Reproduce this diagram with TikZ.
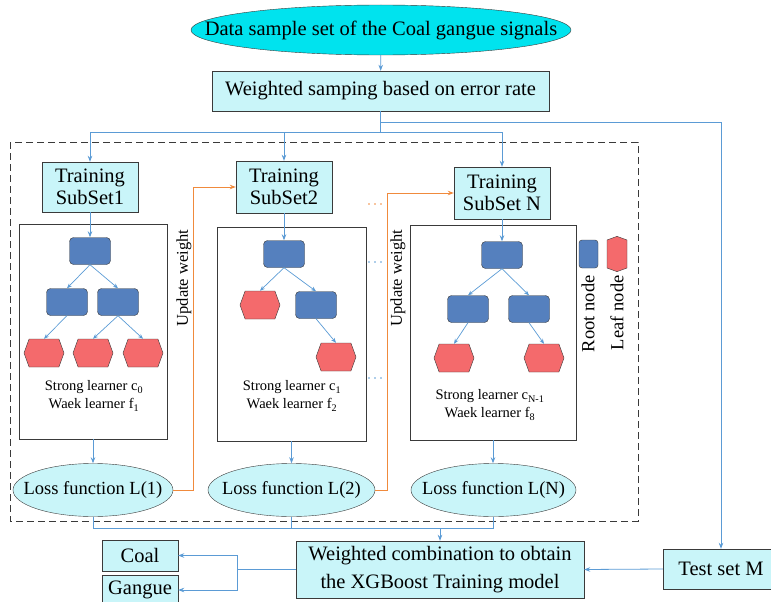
\documentclass[tikz,border=0pt]{standalone}
\usepackage{fontspec}
\setmainfont{Liberation Serif}
\usetikzlibrary{shapes.geometric, shapes.symbols, arrows.meta, calc}
\definecolor{cyantop}{HTML}{00E3EE}
\definecolor{cyanbox}{HTML}{C9F5F9}
\definecolor{linkblue}{HTML}{5B9BD5}
\definecolor{nodeblue}{HTML}{5580BE}
\definecolor{leafred}{HTML}{F46A6C}
\definecolor{updorange}{HTML}{F08A3C}
\definecolor{edgegray}{HTML}{3A3A3A}
\newcommand{\nowidth}[1]{\makebox[0pt]{#1}}
\tikzset{
  topell/.style={ellipse, draw=edgegray, fill=cyantop, minimum width=380pt, minimum height=50pt, inner sep=0pt, font=\fontsize{20.5}{22}\selectfont},
  databox/.style={rectangle, draw=edgegray, fill=cyanbox, inner sep=0pt, align=center, font=\fontsize{20.5}{22.5}\selectfont},
  lossell/.style={ellipse, draw=edgegray, fill=cyanbox, minimum height=53pt, inner sep=0pt, font=\fontsize{18.5}{20}\selectfont},
  treebox/.style={rectangle, draw=edgegray, inner sep=0pt},
  inode/.style={rectangle, rounded corners=4pt, draw=edgegray, fill=nodeblue, minimum width=41pt, minimum height=27pt, inner sep=0pt},
  leaf/.style={signal, signal to=east and west, signal pointer angle=140, draw=edgegray, fill=leafred, minimum width=40pt, minimum height=28pt, inner sep=0pt},
  learner/.style={align=center, font=\fontsize{14.5}{18}\selectfont},
  sidetext/.style={rotate=90, font=\fontsize{16.5}{18}\selectfont},
  arrow/.style={linkblue, line width=0.8pt, -{Stealth[length=6pt,width=4.5pt]}},
  twig/.style={linkblue, line width=0.7pt, -{Stealth[length=5pt,width=4pt]}},
  link/.style={linkblue, line width=0.8pt},
  update/.style={updorange, line width=0.9pt, -{Stealth[length=6pt,width=4.5pt]}}
}

\begin{document}
\begin{tikzpicture}[x=1pt, y=-1pt]
  \useasboundingbox (0,0) rectangle (771,602);

  % 1. Data set and weighted sampling
  \node[topell] (data) at (381,30) {\nowidth{Data sample set of the Coal gangue signals}};
  \node[databox, minimum width=337pt, minimum height=40pt] (wsamp) at (380.5,91) {Weighted samping based on error rate};
  \draw[arrow] (data) -- (wsamp);

  % 2. Training area (dashed frame)
  \draw[edgegray, line width=0.9pt, dash pattern=on 7pt off 4pt] (10,142) rectangle (638,521);

  \node[databox, minimum width=96pt, minimum height=50pt] (sub1) at (90,187) {Training\\SubSet1};
  \node[databox, minimum width=96pt, minimum height=52pt] (sub2) at (284,187) {Training\\SubSet2};
  \node[databox, minimum width=96pt, minimum height=52pt] (subN) at (502,193) {Training\\SubSet N};

  \node[treebox, minimum width=148pt, minimum height=215pt] (tree1) at (93,331.5) {};
  \node[treebox, minimum width=149pt, minimum height=214pt] (tree2) at (291.5,334) {};
  \node[treebox, minimum width=166pt, minimum height=215pt] (treeN) at (493,332.5) {};

  % tree 1
  \node[inode] (r1) at (90,251) {};
  \node[inode] (r1a) at (67,302) {};
  \node[inode] (r1b) at (118,302) {};
  \node[leaf] (l1a) at (44,353) {};
  \node[leaf] (l1b) at (93,353) {};
  \node[leaf] (l1c) at (143,353) {};
  \draw[twig] (r1.south) -- (r1a.north);
  \draw[twig] (r1.south) -- (r1b.north);
  \draw[twig] (r1a.south) -- (l1a.north);
  \draw[twig] (r1b.south) -- (l1b.north);
  \draw[twig] (r1b.south) -- (l1c.north);
  \node[learner] (txt1) at (94,396) {Strong learner c\textsubscript{0}\\Waek learner f\textsubscript{1}};

  % tree 2
  \node[inode] (r2) at (284,254) {};
  \node[leaf] (l2a) at (260,305) {};
  \node[inode] (r2b) at (316,305) {};
  \node[leaf] (l2b) at (336,357) {};
  \draw[twig] (r2.south) -- (l2a.north);
  \draw[twig] (r2.south) -- (r2b.north);
  \draw[twig] (r2b.south) -- (l2b.north);
  \node[learner] (txt2) at (292,396) {Strong learner c\textsubscript{1}\\Waek learner f\textsubscript{2}};

  % tree N
  \node[inode] (rN) at (502,255) {};
  \node[inode] (rNa) at (468,309) {};
  \node[inode] (rNb) at (529,309) {};
  \node[leaf] (lNa) at (454,358) {};
  \node[leaf] (lNb) at (544,358) {};
  \draw[twig] (rN.south) -- (rNa.north);
  \draw[twig] (rN.south) -- (rNb.north);
  \draw[twig] (rNa.south) -- (lNa.north);
  \draw[twig] (rNb.south) -- (lNb.north);
  \node[learner] (txtN) at (490,405) {Strong learner c\textsubscript{N-1}\\Waek learner f\textsubscript{8}};

  % legend
  \node[inode, minimum width=19pt, minimum height=28pt, rounded corners=3pt] (legroot) at (588.5,254) {};
  \node[leaf, signal to=north and south, minimum width=20pt, minimum height=28pt] (legleaf) at (617,254) {};
  \node[rotate=90, anchor=east, font=\fontsize{18.5}{20}\selectfont] (rootlbl) at (588,272) {Root node};
  \node[rotate=90, anchor=east, font=\fontsize{18.5}{20}\selectfont] (leaflbl) at (617,272) {Leaf node};

  % loss functions
  \node[lossell, minimum width=160pt] (loss1) at (93,490) {\nowidth{Loss function L(1)}};
  \node[lossell, minimum width=167pt] (loss2) at (291.5,490) {\nowidth{Loss function L(2)}};
  \node[lossell, minimum width=165pt] (lossN) at (493.5,490) {\nowidth{Loss function L(N)}};

  \draw[arrow] (sub1.south) -- (sub1.south |- r1.north);
  \draw[arrow] (sub2.south) -- (sub2.south |- r2.north);
  \draw[arrow] (subN.south) -- (subN.south |- rN.north);
  \draw[arrow] (tree1.south) -- (loss1.north);
  \draw[arrow] (tree2.south) -- (loss2.north);
  \draw[arrow] (treeN.south) -- (treeN.south |- lossN.north);

  % update weight
  \draw[update] (loss1.east) -- ++(20,0) |- (sub2.west);
  \draw[update] (loss2.east) -- ++(12,0) |- (subN.west);
  \node[sidetext] (upd1) at (184,278) {Update weight};
  \node[sidetext] (upd2) at (398,278) {Update weight};
  \foreach \y/\c in {204/updorange, 262/linkblue, 378/linkblue}
    \foreach \x in {369,375,381}
      \fill[\c] (\x,\y) circle (0.9pt);

  % 3. Splitting the sample
  \coordinate (tap) at (380.5,122);
  \coordinate (split) at (380.5,132);
  \node[databox, minimum width=116pt, minimum height=40pt] (test) at (721,569) {Test set M};
  \draw[arrow] (wsamp.south) -- (tap) -| (test.north);
  \draw[link] (tap) -- (split);
  \draw[arrow] (split) -| (sub1.north);
  \draw[arrow] (split) -| (sub2.north);
  \draw[arrow] (split) -| (subN.north);

  % 4. Combination and result
  \node[databox, minimum width=288pt, minimum height=57pt, font=\fontsize{20.5}{28}\selectfont] (comb) at (440,569.5) {Weighted combination to obtain\\the XGBoost Training model};
  \node[databox, minimum width=76pt, minimum height=31pt] (coal) at (140,555.5) {Coal};
  \node[databox, minimum width=76pt, minimum height=29pt] (gangue) at (140,590) {Gangue};

  \coordinate (merge) at (440,528);
  \draw[link] (loss1.south) -- (loss1.south |- merge) -- (lossN.south |- merge) -- (lossN.south);
  \draw[link] (loss2.south) -- (loss2.south |- merge);
  \draw[arrow] (merge) -- (comb.north);

  \coordinate (fork) at (237,569.5);
  \draw[link] (comb.west) -- (fork);
  \draw[arrow] (fork) |- (coal.east);
  \draw[arrow] (fork) |- (gangue.east);
  \draw[arrow] (test.west) -- (comb.east);

\end{tikzpicture}
\end{document}
